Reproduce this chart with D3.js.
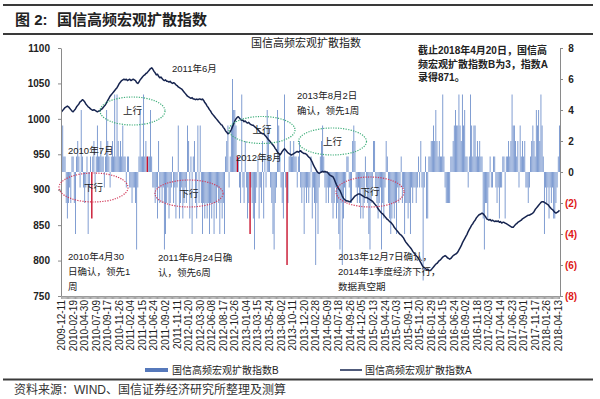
<!DOCTYPE html>
<html><head><meta charset="utf-8">
<script src="https://cdn.jsdelivr.net/npm/d3@7"></script>
<style>body{margin:0;background:#fff;}svg{display:block;}</style>
</head><body>
<svg id="c" width="600" height="399"></svg>
<script>
// ---------- data ----------
const tickLabels = ["2009-12-11","2010-02-19","2010-04-30","2010-07-09","2010-09-17","2010-11-26",
"2011-02-04","2011-04-15","2011-06-24","2011-09-02","2011-11-11","2012-01-20","2012-03-30","2012-06-08",
"2012-08-17","2012-10-26","2013-01-04","2013-03-15","2013-05-24","2013-08-02","2013-10-11","2013-12-20",
"2014-02-28","2014-05-09","2014-07-18","2014-09-26","2014-12-05","2015-02-13","2015-04-24","2015-07-03",
"2015-09-11","2015-11-20","2016-01-29","2016-04-15","2016-06-24","2016-09-02","2016-11-18","2017-02-03",
"2017-04-14","2017-06-23","2017-09-01","2017-11-17","2018-01-26","2018-04-13"];

// 国信高频宏观扩散指数B (weekly, right axis)
const seriesB = [
1,3,1,1,-2,-3,-2,-1,-2,1, 1,-2,-4,1,2,1,-1,4,1,-1, -2,-1,1,-4,-1,1,-3,1,2,-1,
1,3,1,1,2,1,1,-1,1,4, 2,1,-1,1,2,1,5,1,5,2, 1,2,1,3,1,1,-1,1,1,-1,
-1,-2,-1,-1,-2,-5,-1,1,4,1, 1,5,1,2,1,1,1,4,1,-1, -1,-2,-1,-3,2,-2,-1,-2,-1,-5,
-4,-2,-1,-3,-2,-1,1,-2,-1,-3, -1,3,-3,-2,-1,-3,-2,-1,-2,3, 2,-3,1,-4,1,2,-2,-3,3,-2,
3,-2,-4,-2,-3,-2,-3,-2,-4,-2, -3,-2,-4,-2,-3,-1,-2,-4,-2,-3, -2,-4,1,2,3,-1,1,3,6,4,
4,3,1,1,-1,-2,5,-1,-2,2, -1,-3,-2,-4,-1,-2,-3,-5,-2,-1, 1,-3,-1,-2,2,-3,1,-1,4,3,
1,-1,-2,-4,-5,-2,-1,4,3,1, -1,-2,-3,5,-1,-6,-2,1,2,1, 1,2,1,1,-1,1,2,-1,-2,-1,
-4,-1,-2,-1,-2,-1,1,-3,-1,-2, -6,-2,-4,-1,1,2,3,1,-1,-2, -1,-2,-1,-1,-2,-3,-2,-1,-3,-2,
-4,-5,-2,-6,-3,-1,-2,1,1,-1, -2,-2,2,3,2,-1,-2,-1,-2,-3, -1,-3,-2,1,-1,-2,-4,-5,-2,-1,
2,2,-1,-2,-3,-2,-1,-5,-2,-3, -1,2,1,-2,
-3,-4,-3,-2,-3,-2,-4,-1,-2,-1, 1,-2,-1,-4,-2,-2,-3,-2,-4,-1, -2,-1,-1,-2,-1,1,-1,2,-1,-7,
-1,1,-3,-3,1,1,2,2,3,2, 4,2,1,2,1,1,5,1,-1,-2, -2,-2,-2,1,1,2,3,4,3,3,
5,3,2,5,3,4,1,1,-1,1, 5,3,1,3,3,1,2,1,2,1, 1,-3,-5,-2,-2,-3,-1,1,-1,-1,
1,1,-1,-2,-1,-3,-1,-1,1,1, -3,1,1,2,1,2,5,3,3,2, 1,2,-1,3,1,2,
1,2,-1,-1,-2,-1,1,2,3,2, 1,4,3,4,2,5,3,1,-4,-1, -2,-1,-3,-1,-2,-1,-3,-3,-2,-1, 1,3];

// 国信高频宏观扩散指数A (weekly, left axis)
const seriesA = [
1010,1012,1014,1016,1017,1018,1017,1015,1013,1011, 1010,1012,1014,1017,1019,1021,1024,1025,1027,1026,
1024,1021,1019,1017,1016,1014,1013,1012,1013,1012, 1011,1010,1011,1011,1013,1014,1016,1018,1020,1023,
1026,1029,1032,1034,1036,1038,1040,1042,1044,1047, 1050,1052,1054,1055,1056,1055,1056,1054,1055,1056,
1054,1055,1056,1055,1054,1051,1050,1052,1055,1057, 1059,1061,1062,1064,1065,1067,1069,1071,1072,1070,
1067,1065,1062,1063,1060,1058,1059,1057,1055,1054, 1055,1053,1053,1052,1053,1051,1050,1051,1050,1048,
1047,1045,1044,1043,1042,1040,1038,1036,1034,1032, 1031,1030,1029,1030,1028,1028,1027,1028,1027,1028,
1028,1027,1028,1026,1023,1021,1018,1016,1013,1011, 1008,1006,1004,1002,1000,998,996,994,992,991,
988,986,983,981,979,980,982,985,989,993, 997,1000,1002,1003,1001,999,998,998,996,997,
995,994,995,993,992,991,991,989,988,986, 985,983,981,980,979,979,977,975,973,971,
969,967,965,963,961,958,956,953,951,949, 951,954,956,958,956,954,952,951,950,949,
950,951,952,953,954,953,954,955,953,952, 951,951,950,948,946,945,942,939,935,932,
929,926,924,923,924,925,926,925,926,925, 925,923,921,920,919,918,915,911,907,904,
901,899,895,891,888,886,885,884,884,883, 883,885,887,889,891,892,893,894,894,893,
892,891,890,889,889,888,887,886,885,884, 882,880,878,876,873,871,869,867,866,864,
862,860,858,857,855,854,852,850,847,845, 843,841,839,837,836,834,832,829,826,824,
822,820,818,816,813,811,809,807,805,803, 800,797,794,791,790,789,787,788,786,786,
787,789,791,793,795,796,798,800,801,803, 805,806,807,806,804,803,802,803,805,807,
808,809,810,812,815,818,821,825,828,831, 834,837,841,844,847,850,852,855,857,860,
862,864,865,866,867,866,864,862,859,858, 857,858,856,857,856,855,856,855,856,854,
855,853,854,854,853,852,851,850,849,848, 847,847,849,851,852,854,855,856,857,859,
860,861,862,863,864,864,865,866,867,869, 872,874,876,878,880,882,883,883,882,881,
880,879,877,875,873,872,870,868,867,868, 869,871];

const redWeeks = [26, 74, 152, 163, 195];   // highlighted signal weeks of B
const leftTicks = [750, 800, 850, 900, 950, 1000, 1050, 1100];
const rightTicks = [-8, -6, -4, -2, 0, 2, 4, 6, 8];
const nameA = "国信高频宏观扩散指数A";
const nameB = "国信高频宏观扩散指数B";

// ---------- drawing ----------
const F = "'Liberation Sans','Noto Sans CJK SC',sans-serif";
const svg = d3.select("#c").style("font-family", F);
const N = seriesA.length;
const P = {l: 61, r: 560, t: 48, b: 296};
const barColor = "#6e8fcb";

const x = d3.scaleBand().domain(d3.range(N)).range([P.l, P.r]).paddingInner(0.25).paddingOuter(0.125);
const cx = i => x(i) + x.bandwidth() / 2;
const yL = d3.scaleLinear().domain([750, 1100]).range([P.b, P.t]);
const yR = d3.scaleLinear().domain([-8, 8]).range([P.b, P.t]);

// rules
[5, 34, 379.5].forEach(yy =>
  svg.append("line").attr("x1", 3).attr("x2", 593).attr("y1", yy).attr("y2", yy)
    .attr("stroke", "#3a3a3a").attr("stroke-width", 2));

// title
const t = svg.append("text").attr("x", 15).attr("y", 25).attr("font-size", 15).attr("font-weight", "bold").attr("fill", "#222");
t.append("tspan").text("图 2:");
t.append("tspan").attr("x", 57).text("国信高频宏观扩散指数");

svg.append("text").attr("x", 251).attr("y", 47).attr("font-size", 11).attr("fill", "#222").text("国信高频宏观扩散指数");

// bars
const redSet = new Set(redWeeks);
svg.append("g").selectAll("rect").data(seriesB.map((v, i) => ({v, i})).filter(d => !redSet.has(d.i)))
  .join("rect")
  .attr("x", d => x(d.i)).attr("width", x.bandwidth())
  .attr("y", d => yR(Math.max(0, d.v))).attr("height", d => Math.abs(yR(d.v) - yR(0)))
  .attr("fill", barColor);
svg.append("g").selectAll("rect").data(redWeeks.map(i => ({v: seriesB[i], i})))
  .join("rect")
  .attr("x", d => x(d.i)).attr("width", 1.3)
  .attr("y", d => yR(Math.max(0, d.v))).attr("height", d => Math.abs(yR(d.v) - yR(0)))
  .attr("fill", "#c4001e");

// line A
svg.append("path").datum(seriesA)
  .attr("d", d3.line().x((d, i) => cx(i)).y(d => yL(d)))
  .attr("fill", "none").attr("stroke", "#16244f").attr("stroke-width", 1.5).attr("stroke-linejoin", "round");

// axes
const gL = svg.append("g").attr("transform", `translate(${P.l},0)`)
  .call(d3.axisLeft(yL).tickValues(leftTicks).tickFormat(d3.format("d")).tickSize(3).tickPadding(8).tickSizeOuter(0));
gL.selectAll("text").attr("font-size", 10).attr("font-weight", "bold").attr("fill", "#222").attr("font-family", F);

const gR = svg.append("g").attr("transform", `translate(${P.r},0)`)
  .call(d3.axisRight(yR).tickValues(rightTicks).tickSize(3).tickSizeOuter(0)
    .tickFormat(d => d < 0 ? `(${-d})` : `${d}`));
gR.selectAll("text").attr("font-size", 10).attr("font-weight", "bold").attr("font-family", F)
  .attr("text-anchor", "middle").attr("x", 11)
  .attr("fill", d => d < 0 ? "#e01818" : "#222");

const gX = svg.append("g").attr("transform", `translate(0,${P.b})`)
  .call(d3.axisBottom(x).tickValues(d3.range(N)).tickFormat("").tickSize(3).tickSizeOuter(0));

svg.append("g").selectAll("text").data(tickLabels).join("text")
  .attr("transform", (d, k) => `translate(${cx(k * 10)},300) rotate(-90)`)
  .attr("text-anchor", "end").attr("dy", "0.35em").attr("font-size", 10).attr("fill", "#222")
  .text(d => d);

[gL, gR, gX].forEach(g => g.selectAll(".domain, .tick line").attr("stroke", "#8a8a8a"));
gX.selectAll(".tick line").attr("stroke", "#a0a0a0");

// ellipses
const ells = [
  {cx: 132.5, cy: 111, rx: 32.5, ry: 14, c: "#3fae7a", lab: "上行"},
  {cx: 262, cy: 130, rx: 33, ry: 13.5, c: "#3fae7a", lab: "上行"},
  {cx: 332.5, cy: 141.5, rx: 34, ry: 13.5, c: "#3fae7a", lab: "上行"},
  {cx: 93.5, cy: 187.5, rx: 34.5, ry: 14.5, c: "#d23a5a", lab: "下行"},
  {cx: 189, cy: 193.5, rx: 34, ry: 13.5, c: "#d23a5a", lab: "下行"},
  {cx: 370, cy: 192, rx: 34, ry: 15, c: "#d23a5a", lab: "下行"}];
ells.forEach(e => {
  svg.append("ellipse").attr("cx", e.cx).attr("cy", e.cy).attr("rx", e.rx).attr("ry", e.ry)
    .attr("fill", "none").attr("stroke", e.c).attr("stroke-width", 1.2).attr("stroke-dasharray", "1.2,1.3");
  svg.append("text").attr("x", e.cx).attr("y", e.cy + 3).attr("text-anchor", "middle")
    .attr("font-size", 9.5).attr("fill", "#222").text(e.lab);
});

// annotations
const notes = [
  [172, 72, "2011年6月"], [68, 154, "2010年7月"], [236, 161, "2012年8月"],
  [297, 99, "2013年8月2日"], [297, 114, "确认，领先1周"],
  [68, 260, "2010年4月30"], [68, 275, "日确认，领先1"], [68, 290, "周"],
  [158, 261, "2011年6月24日确"], [158, 276, "认，领先6周"],
  [338, 260, "2013年12月7日确认，"], [338, 275, "2014年1季度经济下行，"], [338, 290, "数据真空期"]];
notes.forEach(([nx, ny, s]) => svg.append("text").attr("x", nx).attr("y", ny)
  .attr("font-size", 9.5).attr("fill", "#222").text(s));

[[54, "截止2018年4月20日，国信高"], [68, "频宏观扩散指数B为3，指数A"], [81, "录得871。"]]
  .forEach(([ny, s]) => svg.append("text").attr("x", 418).attr("y", ny).attr("font-size", 10)
    .attr("font-weight", "bold").attr("fill", "#222").text(s));

// legend
svg.append("rect").attr("x", 145).attr("y", 368).attr("width", 23).attr("height", 4).attr("fill", "#5679bb");
svg.append("text").attr("x", 172).attr("y", 374).attr("font-size", 10).attr("fill", "#222").text(nameB);
svg.append("line").attr("x1", 340).attr("x2", 362).attr("y1", 370).attr("y2", 370)
  .attr("stroke", "#16244f").attr("stroke-width", 1.5);
svg.append("text").attr("x", 365).attr("y", 374).attr("font-size", 10).attr("fill", "#222").text(nameA);

// source
svg.append("text").attr("x", 14).attr("y", 394).attr("font-size", 12).attr("fill", "#333")
  .text("资料来源：WIND、国信证券经济研究所整理及测算");
</script>
</body></html>
